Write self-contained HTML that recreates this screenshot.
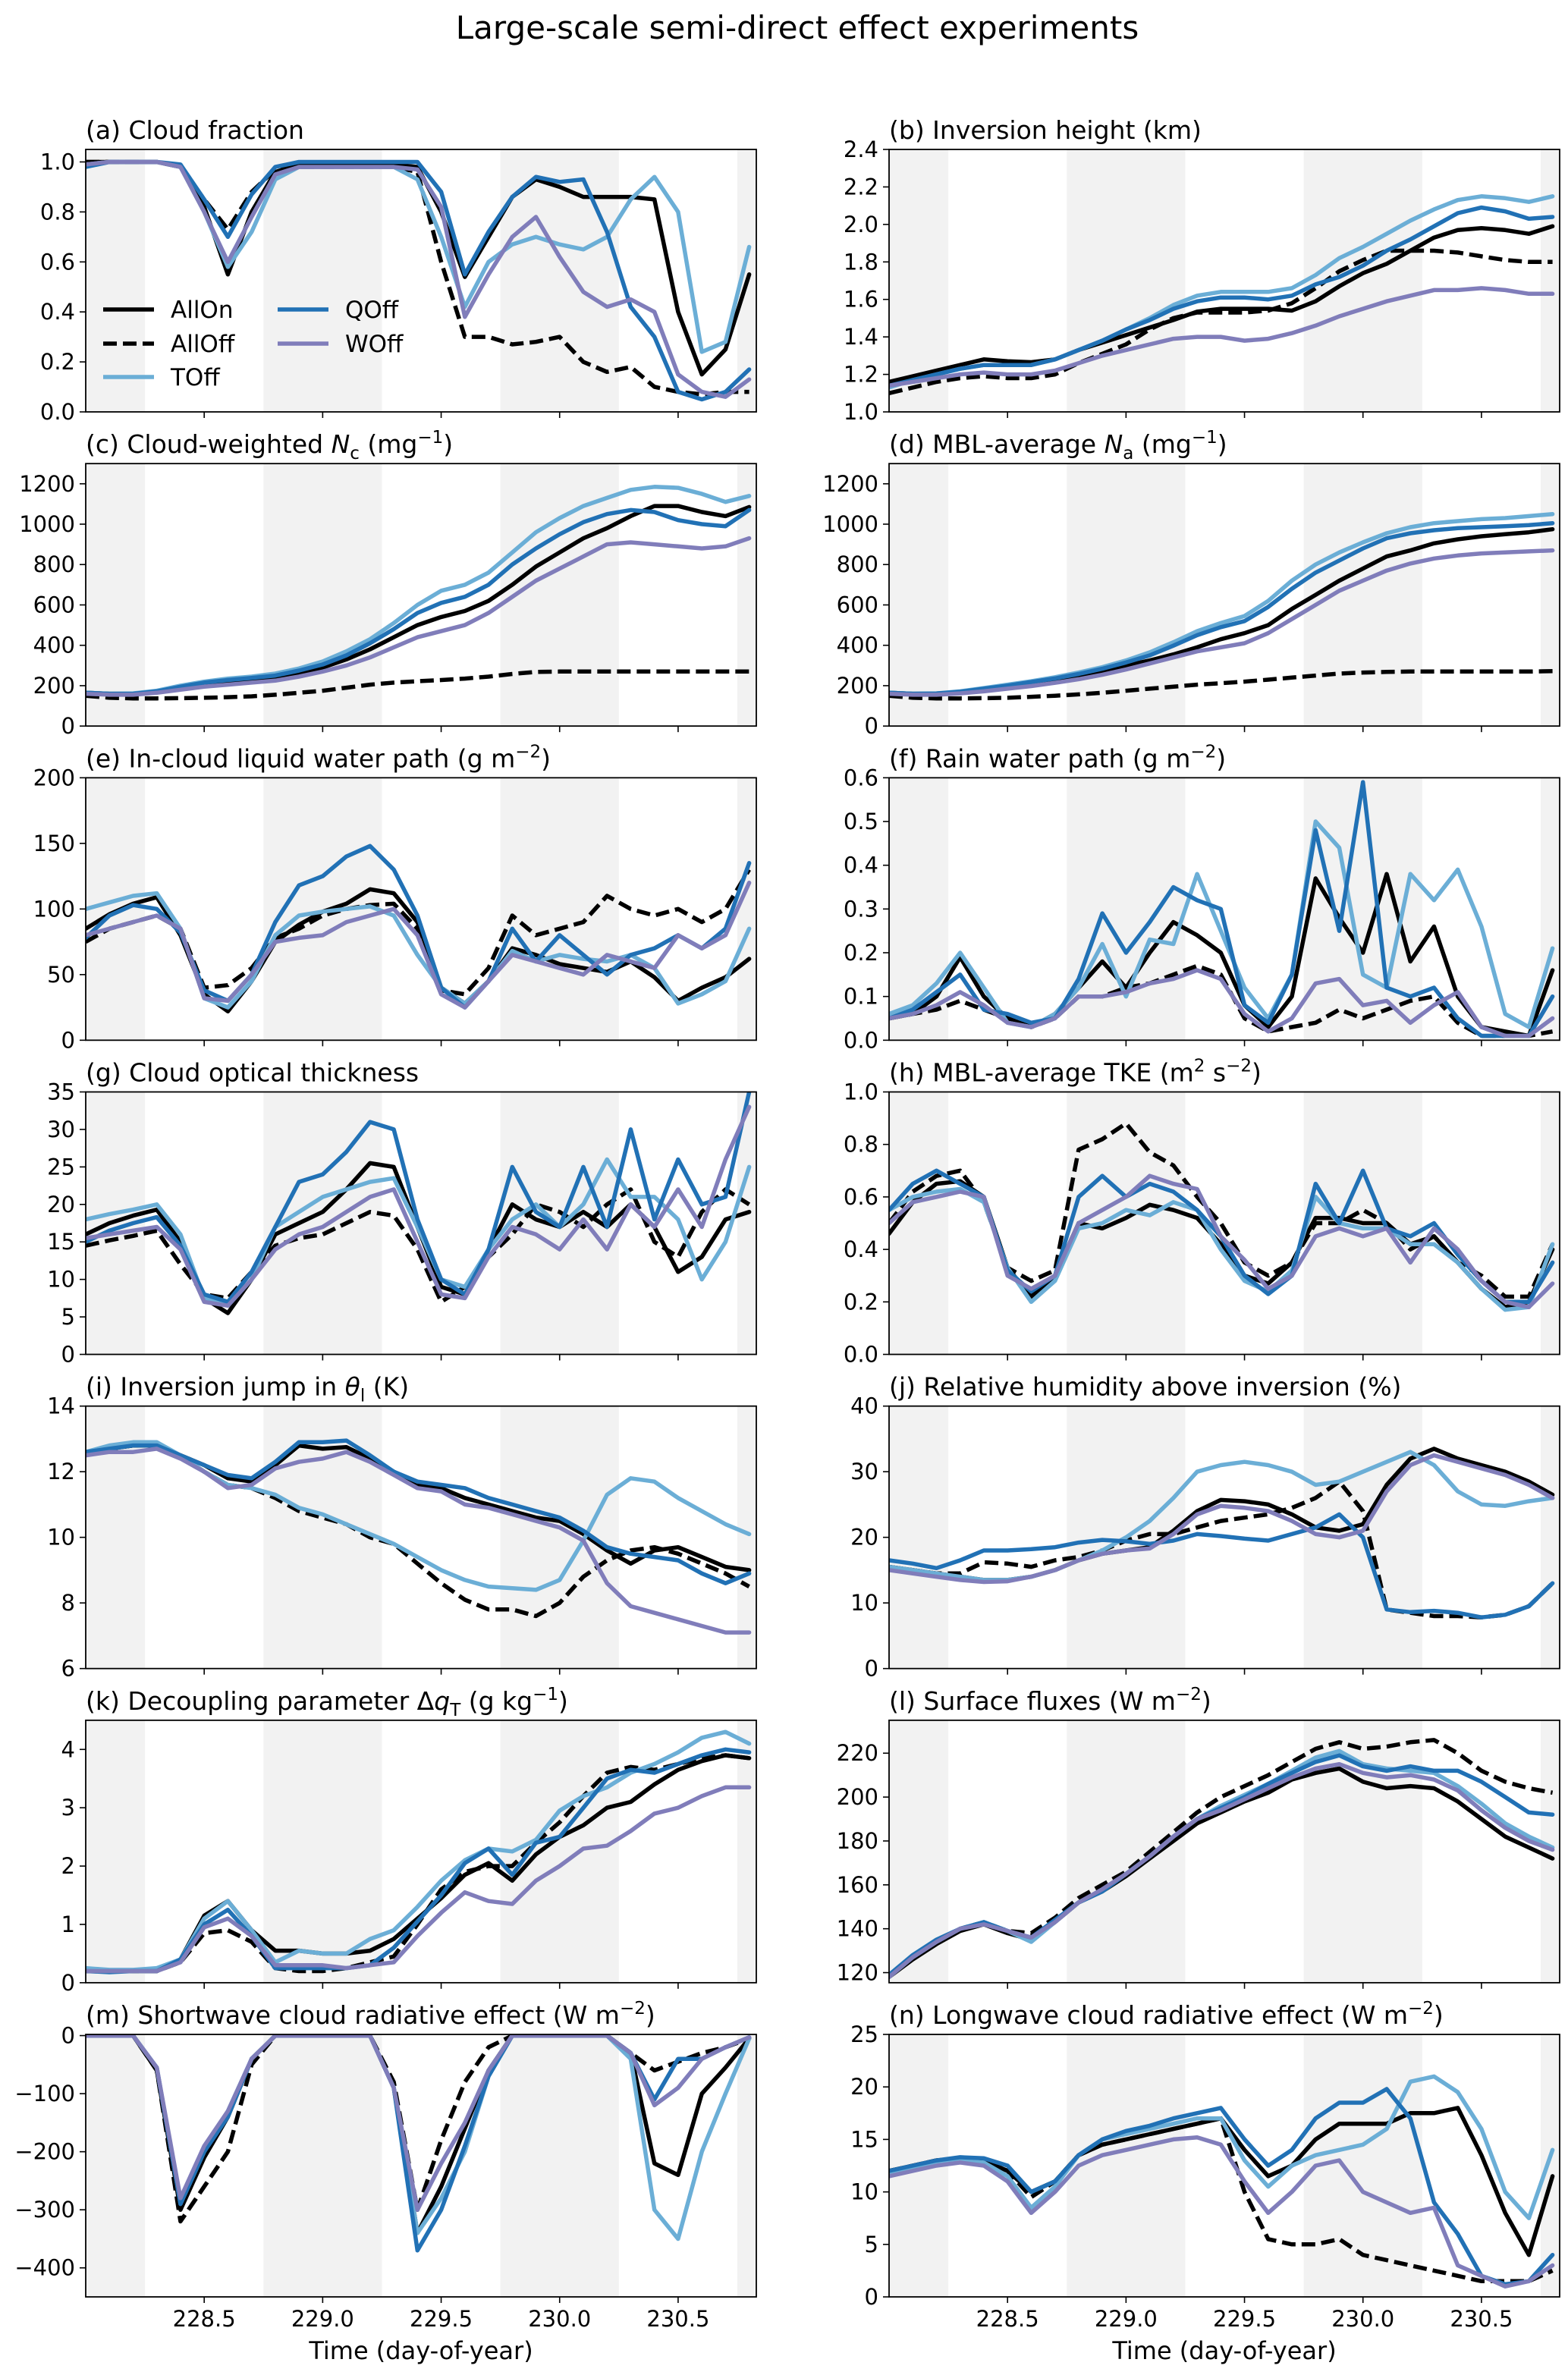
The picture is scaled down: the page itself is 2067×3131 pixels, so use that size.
<!DOCTYPE html>
<html><head><meta charset="utf-8">
<style>
html,body{margin:0;padding:0;background:#fff;}
svg{display:block;font-family:"DejaVu Sans","Liberation Sans",sans-serif;}
</style></head>
<body>
<svg id="fig" xmlns="http://www.w3.org/2000/svg" width="2067" height="3131" viewBox="0 0 2067 3131">
<rect x="0" y="0" width="2067" height="3131" fill="#fff"/>
<text x="1051" y="51" font-size="42" text-anchor="middle">Large-scale semi-direct effect experiments</text>
</svg>
<script>
// ---- data ----
const times = [228.0,228.1,228.2,228.3,228.4,228.5,228.6,228.7,228.8,228.9,229.0,229.1,229.2,229.3,229.4,229.5,229.6,229.7,229.8,229.9,230.0,230.1,230.2,230.3,230.4,230.5,230.6,230.7,230.8];
const seriesNames = ["AllOn","AllOff","TOff","QOff","WOff"];
const xTickValues = [228.5,229.0,229.5,230.0,230.5];
const xTickLabels = ["228.5","229.0","229.5","230.0","230.5"];
const nightStarts = [227.75,228.75,229.75,230.75];
const nightEnds = [228.25,229.25,230.25,231.25];

// (a) cloud fraction
const cfAllOn = [1,1,1,1,0.98,0.82,0.55,0.8,0.96,0.99,0.99,0.99,0.99,0.99,0.98,0.8,0.54,0.7,0.86,0.93,0.9,0.86,0.86,0.86,0.85,0.4,0.15,0.25,0.55];
const cfAllOff = [1,1,1,1,0.98,0.85,0.73,0.88,0.97,0.98,0.98,0.98,0.98,0.98,0.96,0.6,0.3,0.3,0.27,0.28,0.3,0.2,0.16,0.18,0.1,0.08,0.07,0.08,0.08];
const cfTOff = [0.99,1,1,1,0.98,0.8,0.58,0.72,0.93,0.98,0.98,0.98,0.98,0.98,0.93,0.7,0.42,0.6,0.67,0.7,0.67,0.65,0.7,0.85,0.94,0.8,0.24,0.28,0.66];
const cfQOff = [0.98,1,1,1,0.99,0.85,0.7,0.87,0.98,1,1,1,1,1,1,0.88,0.55,0.72,0.86,0.94,0.92,0.93,0.72,0.42,0.3,0.08,0.05,0.08,0.17];
const cfWOff = [0.99,1,1,1,0.98,0.8,0.6,0.78,0.95,0.98,0.98,0.98,0.98,0.98,0.97,0.82,0.38,0.55,0.7,0.78,0.62,0.48,0.42,0.45,0.4,0.15,0.08,0.06,0.13];
// (b) inversion height
const zAllOn = [1.16,1.19,1.22,1.25,1.28,1.27,1.265,1.28,1.33,1.37,1.41,1.45,1.49,1.535,1.55,1.55,1.55,1.54,1.59,1.67,1.74,1.79,1.86,1.93,1.97,1.98,1.97,1.95,1.99];
const zAllOff = [1.1,1.13,1.16,1.18,1.19,1.18,1.18,1.2,1.26,1.31,1.36,1.44,1.5,1.53,1.53,1.53,1.54,1.58,1.66,1.75,1.81,1.86,1.86,1.86,1.85,1.83,1.81,1.8,1.8];
const zTOff = [1.13,1.17,1.2,1.23,1.25,1.25,1.25,1.28,1.33,1.38,1.44,1.5,1.57,1.62,1.64,1.64,1.64,1.66,1.73,1.82,1.88,1.95,2.02,2.08,2.13,2.15,2.14,2.12,2.15];
const zQOff = [1.14,1.17,1.2,1.23,1.25,1.25,1.25,1.28,1.33,1.38,1.44,1.49,1.55,1.59,1.61,1.61,1.6,1.62,1.68,1.72,1.78,1.86,1.92,1.99,2.06,2.09,2.07,2.03,2.04];
const zWOff = [1.14,1.16,1.18,1.2,1.21,1.2,1.2,1.22,1.26,1.3,1.33,1.36,1.39,1.4,1.4,1.38,1.39,1.42,1.46,1.51,1.55,1.59,1.62,1.65,1.65,1.66,1.65,1.63,1.63];
// (c) cloud-weighted Nc
const ncAllOn = [165,160,160,170,190,210,220,230,240,260,290,330,380,440,500,540,570,620,700,790,860,930,980,1040,1090,1090,1060,1040,1085];
const ncAllOff = [150,140,137,137,138,140,143,147,155,165,175,190,205,215,222,228,235,245,258,268,270,270,270,270,270,270,270,270,270];
const ncTOff = [165,160,162,175,200,220,235,245,260,285,320,370,430,510,600,670,700,760,860,960,1030,1090,1130,1170,1185,1180,1150,1110,1140];
const ncQOff = [165,160,160,172,195,215,228,238,250,275,305,350,410,480,560,610,640,700,800,880,950,1010,1050,1070,1060,1020,1000,990,1070];
const ncWOff = [160,155,155,165,180,195,205,215,225,245,270,300,340,390,440,470,500,560,640,720,780,840,900,910,900,890,880,890,930];
// (d) MBL-average Na
const naAllOn = [165,160,160,168,180,195,210,228,248,272,300,325,355,390,430,460,500,580,650,720,780,840,870,905,925,940,950,960,975];
const naAllOff = [150,140,137,137,138,140,145,150,157,165,175,185,195,205,212,220,230,240,250,260,265,268,270,270,270,270,270,270,272];
const naTOff = [165,160,162,172,188,205,222,242,265,292,325,365,415,470,510,545,620,720,800,860,910,955,985,1005,1015,1025,1030,1040,1050];
const naQOff = [165,160,161,170,185,200,218,236,258,284,315,350,398,450,490,520,590,680,760,820,880,930,955,970,980,985,990,995,1005];
const naWOff = [160,155,155,162,172,185,198,214,232,254,280,310,340,370,390,410,460,530,600,670,720,770,805,830,845,855,860,865,870];
// (e) in-cloud LWP
const lwpAllOn = [85,96,104,109,80,35,22,45,75,88,98,104,115,112,90,40,28,45,70,65,58,55,52,60,48,30,40,48,62];
const lwpAllOff = [75,85,90,95,85,40,42,55,78,85,95,100,103,104,85,38,35,55,95,80,85,90,110,100,95,100,90,100,130];
const lwpTOff = [100,105,110,112,85,32,25,45,80,95,98,100,102,95,65,40,28,45,68,60,65,62,60,65,55,28,35,45,85];
const lwpQOff = [78,95,103,100,82,38,30,50,90,118,125,140,148,130,95,40,25,45,85,60,80,65,50,65,70,80,70,85,135];
const lwpWOff = [80,85,90,95,85,32,30,50,75,78,80,90,95,100,80,35,25,45,65,60,55,50,65,60,55,80,70,80,120];
// (f) rain water path
const rwpAllOn = [0.05,0.06,0.1,0.19,0.1,0.05,0.03,0.06,0.12,0.18,0.12,0.2,0.27,0.24,0.2,0.08,0.03,0.1,0.37,0.28,0.2,0.38,0.18,0.26,0.1,0.03,0.02,0.01,0.16];
const rwpAllOff = [0.05,0.06,0.07,0.09,0.07,0.05,0.03,0.05,0.1,0.1,0.12,0.13,0.15,0.17,0.15,0.05,0.02,0.03,0.04,0.07,0.05,0.07,0.09,0.1,0.04,0.01,0.01,0.01,0.02];
const rwpTOff = [0.06,0.08,0.13,0.2,0.12,0.04,0.03,0.06,0.12,0.22,0.1,0.23,0.22,0.38,0.25,0.12,0.05,0.15,0.5,0.44,0.15,0.12,0.38,0.32,0.39,0.26,0.06,0.03,0.21];
const rwpQOff = [0.05,0.07,0.11,0.15,0.07,0.06,0.04,0.05,0.14,0.29,0.2,0.27,0.35,0.32,0.3,0.08,0.04,0.15,0.48,0.25,0.59,0.12,0.1,0.12,0.05,0.01,0.01,0.01,0.1];
const rwpWOff = [0.05,0.06,0.08,0.11,0.08,0.04,0.03,0.05,0.1,0.1,0.11,0.13,0.14,0.16,0.14,0.06,0.02,0.05,0.13,0.14,0.08,0.09,0.04,0.08,0.11,0.03,0.01,0.01,0.05];
// (g) cloud optical thickness
const codAllOn = [16,17.5,18.5,19.3,15,7.5,5.5,10,16,17.5,19,22,25.5,25,17,9,8,14,20,18,17,19,17,20,17,11,13,18,19];
const codAllOff = [14.5,15.2,15.8,16.5,12,8,7.5,11,14.5,15.5,16,17.5,19,18.5,14,7,9,13,16,20,19,17,20,22,15,13,19,22,20];
const codTOff = [18,18.7,19.3,20,16,7.5,6.5,10,17,19,21,22,23,23.5,17,10,9,14,18,20,17,20,26,21,21,18,10,15,25];
const codQOff = [15,16.5,17.5,18.3,14.5,8,7,11,17,23,24,27,31,30,18,10,8,14,25,19,17,25,17,30,18,26,20,21,35];
const codWOff = [15.5,16,16.5,17,14,7,6.5,10,14,16,17,19,21,22,15,8,7.5,13,17,16,14,18,14,20,17,22,17,26,33];
// (h) MBL-average TKE
const tkeAllOn = [0.46,0.58,0.65,0.66,0.6,0.33,0.22,0.3,0.5,0.48,0.52,0.57,0.55,0.52,0.42,0.3,0.27,0.35,0.52,0.52,0.5,0.5,0.42,0.45,0.35,0.25,0.18,0.2,0.4];
const tkeAllOff = [0.5,0.62,0.68,0.7,0.58,0.33,0.28,0.32,0.78,0.82,0.88,0.77,0.72,0.6,0.5,0.35,0.3,0.35,0.5,0.5,0.55,0.5,0.4,0.45,0.35,0.3,0.22,0.22,0.42];
const tkeTOff = [0.55,0.6,0.62,0.63,0.58,0.33,0.2,0.28,0.48,0.5,0.55,0.53,0.58,0.55,0.4,0.28,0.24,0.32,0.6,0.5,0.48,0.48,0.42,0.42,0.35,0.25,0.17,0.18,0.42];
const tkeQOff = [0.55,0.65,0.7,0.65,0.6,0.32,0.24,0.3,0.6,0.68,0.6,0.65,0.62,0.55,0.45,0.3,0.23,0.3,0.65,0.5,0.7,0.48,0.45,0.5,0.38,0.28,0.2,0.2,0.35];
const tkeWOff = [0.5,0.58,0.6,0.62,0.6,0.3,0.25,0.3,0.5,0.55,0.6,0.68,0.65,0.63,0.45,0.36,0.25,0.3,0.45,0.48,0.45,0.48,0.35,0.48,0.4,0.28,0.2,0.18,0.27];
// (i) inversion jump
const djAllOn = [12.6,12.7,12.8,12.8,12.5,12.2,11.8,11.7,12.2,12.8,12.7,12.75,12.4,12.0,11.6,11.5,11.2,11.0,10.8,10.6,10.5,10.1,9.6,9.2,9.6,9.7,9.4,9.1,9.0];
const djAllOff = [12.6,12.7,12.8,12.8,12.5,12.0,11.6,11.5,11.2,10.8,10.6,10.4,10.0,9.8,9.2,8.6,8.1,7.8,7.8,7.6,8.0,8.8,9.3,9.6,9.7,9.5,9.2,8.9,8.5];
const djTOff = [12.6,12.8,12.9,12.9,12.5,12.0,11.6,11.5,11.3,10.9,10.7,10.4,10.1,9.8,9.4,9.0,8.7,8.5,8.45,8.4,8.7,9.9,11.3,11.8,11.7,11.2,10.8,10.4,10.1];
const djQOff = [12.6,12.7,12.8,12.8,12.5,12.2,11.9,11.8,12.3,12.9,12.9,12.95,12.5,12.0,11.7,11.6,11.5,11.2,11.0,10.8,10.6,10.2,9.7,9.5,9.4,9.3,8.9,8.6,8.9];
const djWOff = [12.5,12.6,12.6,12.7,12.4,12.0,11.5,11.6,12.1,12.3,12.4,12.6,12.3,11.9,11.5,11.4,11.0,10.9,10.7,10.5,10.3,9.9,8.6,7.9,7.7,7.5,7.3,7.1,7.1];
// (j) relative humidity above inversion
const rhAllOn = [15.5,15,14.5,14,13.5,13.5,14,15,16.5,17.5,18,18.5,21,24,25.7,25.5,25,23.5,21.5,21,22,28,32,33.5,32,31,30,28.5,26.5];
const rhAllOff = [15.5,15,14.5,14.5,16.2,16,15.5,16.5,17,18,19.5,20.5,20.5,21.5,22.5,23,23.5,24.5,26,28.5,24,9,8.5,8,8,7.8,8.2,9.5,13];
const rhTOff = [15.5,15,14.5,14,13.5,13.5,14,15,16.5,18,20,22.5,26,30,31,31.5,31,30,28,28.5,30,31.5,33,31,27,25,24.8,25.5,26];
const rhQOff = [16.5,16,15.3,16.5,18,18,18.2,18.5,19.2,19.6,19.4,19,19.5,20.5,20.2,19.8,19.5,20.5,21.5,23.5,20,9,8.6,8.8,8.5,7.8,8.2,9.5,13];
const rhWOff = [15,14.5,14,13.5,13.2,13.3,14,15,16.5,17.5,18,18.3,20.5,23.5,24.8,24.5,24,22.5,20.5,20,21,27,31,32.5,31.5,30.5,29.5,28,26];
// (k) decoupling parameter
const dqAllOn = [0.2,0.2,0.2,0.2,0.4,1.15,1.4,0.9,0.55,0.55,0.5,0.5,0.55,0.75,1.1,1.45,1.85,2.05,1.75,2.2,2.5,2.7,3.0,3.1,3.4,3.65,3.8,3.9,3.85];
const dqAllOff = [0.2,0.2,0.2,0.2,0.35,0.85,0.9,0.7,0.25,0.2,0.2,0.25,0.35,0.45,1.0,1.6,1.9,2.0,2.0,2.4,2.75,3.2,3.6,3.7,3.65,3.75,3.85,3.9,3.85];
const dqTOff = [0.25,0.22,0.22,0.25,0.4,1.1,1.4,0.9,0.35,0.55,0.5,0.5,0.75,0.9,1.3,1.75,2.1,2.3,2.25,2.45,2.95,3.2,3.35,3.6,3.75,3.95,4.2,4.3,4.1];
const dqQOff = [0.2,0.18,0.2,0.2,0.4,1.0,1.25,0.8,0.25,0.25,0.25,0.25,0.3,0.6,1.05,1.5,2.05,2.3,1.85,2.4,2.5,3.0,3.5,3.65,3.6,3.75,3.9,4.0,3.95];
const dqWOff = [0.2,0.2,0.2,0.2,0.35,0.95,1.1,0.8,0.3,0.3,0.3,0.25,0.3,0.35,0.8,1.2,1.55,1.4,1.35,1.75,2.0,2.3,2.35,2.6,2.9,3.0,3.2,3.35,3.35];
// (l) surface fluxes
const sfAllOn = [118,126,133,139,142,138,135,143,152,157,164,172,180,188,193,198,202,208,211,213,207,204,205,204,198,190,182,177,172];
const sfAllOff = [119,127,134,140,143,139,138,145,154,160,166,175,184,193,200,205,210,216,222,225,222,223,225,226,220,212,207,204,202];
const sfTOff = [118,127,134,140,143,139,134,143,152,157,165,173,182,190,196,201,206,212,218,221,215,213,212,211,205,197,188,182,177];
const sfQOff = [119,128,135,140,143,139,136,144,152,157,165,173,182,190,195,200,206,211,216,219,214,212,214,212,212,207,200,193,192];
const sfWOff = [118,127,134,140,142,139,136,143,152,158,165,173,182,190,194,199,204,209,213,215,211,209,210,208,203,194,186,180,176];
// (m) shortwave CRE
const swAllOn = [0,0,0,-60,-300,-210,-140,-40,0,0,0,0,0,-90,-340,-260,-160,-60,0,0,0,0,0,-30,-220,-240,-100,-55,-5];
const swAllOff = [0,0,0,-60,-320,-260,-200,-50,0,0,0,0,0,-80,-300,-180,-80,-20,0,0,0,0,0,-30,-60,-45,-30,-20,-5];
const swTOff = [0,0,0,-55,-290,-200,-130,-40,0,0,0,0,0,-90,-340,-280,-200,-70,0,0,0,0,0,-40,-300,-350,-200,-100,-5];
const swQOff = [0,0,0,-55,-290,-200,-140,-40,0,0,0,0,0,-90,-370,-300,-190,-70,0,0,0,0,0,-30,-110,-40,-40,-20,-3];
const swWOff = [0,0,0,-55,-280,-190,-130,-40,0,0,0,0,0,-90,-300,-220,-150,-60,0,0,0,0,0,-30,-120,-90,-40,-20,-3];
// (n) longwave CRE
const lwAllOn = [12,12.5,13,13.2,13,12,10,11,13.5,14.5,15,15.5,16,16.5,17,14,11.5,12.5,15,16.5,16.5,16.5,17.5,17.5,18,13.5,8,4,11.5];
const lwAllOff = [12,12.5,13,13.2,13,12,9.5,11,13.5,14.5,15,15.5,16,16.5,17,10,5.5,5,5,5.5,4,3.5,3,2.5,2,1.5,1.5,1.5,2.5];
const lwTOff = [11.8,12.3,12.8,13,12.8,11.5,8.5,10.5,13.5,15,15.5,16,16.5,17,17,13,10.5,12.5,13.5,14,14.5,16,20.5,21,19.5,16,10,7.5,14];
const lwQOff = [12,12.5,13,13.3,13.2,12.5,10,11,13.5,15,15.8,16.3,17,17.5,18,15,12.5,14,17,18.5,18.5,19.8,17,9,6,2,1.2,1.5,4];
const lwWOff = [11.5,12,12.5,12.8,12.5,11,8,10,12.5,13.5,14,14.5,15,15.2,14.5,11,8,10,12.5,13,10,9,8,8.5,3,2,1,1.5,3];

// ---- layout / style ----
const NS = "http://www.w3.org/2000/svg";
const svg = document.getElementById("fig");
const colLeft = [113, 1172];
const colWidth = 884;
const rowTop0 = 197, rowPitch = 414.17, axH = 346;
const xMin = 228.0, xMax = 230.83;
const styles = {
  AllOn: {color: "#000000", dash: null},
  AllOff: {color: "#000000", dash: "18,8"},
  TOff: {color: "#6baed6", dash: null},
  QOff: {color: "#2171b5", dash: null},
  WOff: {color: "#807dba", dash: null}
};

const panels = [
 {key:"a", col:0,row:0, title:'(a) Cloud fraction', yMin:0, yMax:1.05, ticks:[0,0.2,0.4,0.6,0.8,1.0], labels:["0.0","0.2","0.4","0.6","0.8","1.0"], s:[cfAllOn,cfAllOff,cfTOff,cfQOff,cfWOff]},
 {key:"b", col:1,row:0, title:'(b) Inversion height (km)', yMin:1.0, yMax:2.4, ticks:[1.0,1.2,1.4,1.6,1.8,2.0,2.2,2.4], labels:["1.0","1.2","1.4","1.6","1.8","2.0","2.2","2.4"], s:[zAllOn,zAllOff,zTOff,zQOff,zWOff]},
 {key:"c", col:0,row:1, title:'(c) Cloud-weighted <tspan font-style="italic">N</tspan><tspan dy="8" font-size="23">c</tspan><tspan dy="-8"> (mg</tspan><tspan dy="-13" font-size="23">−1</tspan><tspan dy="13">)</tspan>', yMin:0, yMax:1300, ticks:[0,200,400,600,800,1000,1200], labels:["0","200","400","600","800","1000","1200"], s:[ncAllOn,ncAllOff,ncTOff,ncQOff,ncWOff]},
 {key:"d", col:1,row:1, title:'(d) MBL-average <tspan font-style="italic">N</tspan><tspan dy="8" font-size="23">a</tspan><tspan dy="-8"> (mg</tspan><tspan dy="-13" font-size="23">−1</tspan><tspan dy="13">)</tspan>', yMin:0, yMax:1300, ticks:[0,200,400,600,800,1000,1200], labels:["0","200","400","600","800","1000","1200"], s:[naAllOn,naAllOff,naTOff,naQOff,naWOff]},
 {key:"e", col:0,row:2, title:'(e) In-cloud liquid water path (g m<tspan dy="-13" font-size="23">−2</tspan><tspan dy="13">)</tspan>', yMin:0, yMax:200, ticks:[0,50,100,150,200], labels:["0","50","100","150","200"], s:[lwpAllOn,lwpAllOff,lwpTOff,lwpQOff,lwpWOff]},
 {key:"f", col:1,row:2, title:'(f) Rain water path (g m<tspan dy="-13" font-size="23">−2</tspan><tspan dy="13">)</tspan>', yMin:0, yMax:0.6, ticks:[0,0.1,0.2,0.3,0.4,0.5,0.6], labels:["0.0","0.1","0.2","0.3","0.4","0.5","0.6"], s:[rwpAllOn,rwpAllOff,rwpTOff,rwpQOff,rwpWOff]},
 {key:"g", col:0,row:3, title:'(g) Cloud optical thickness', yMin:0, yMax:35, ticks:[0,5,10,15,20,25,30,35], labels:["0","5","10","15","20","25","30","35"], s:[codAllOn,codAllOff,codTOff,codQOff,codWOff]},
 {key:"h", col:1,row:3, title:'(h) MBL-average TKE (m<tspan dy="-13" font-size="23">2</tspan><tspan dy="13"> s</tspan><tspan dy="-13" font-size="23">−2</tspan><tspan dy="13">)</tspan>', yMin:0, yMax:1.0, ticks:[0,0.2,0.4,0.6,0.8,1.0], labels:["0.0","0.2","0.4","0.6","0.8","1.0"], s:[tkeAllOn,tkeAllOff,tkeTOff,tkeQOff,tkeWOff]},
 {key:"i", col:0,row:4, title:'(i) Inversion jump in <tspan font-style="italic">θ</tspan><tspan dy="8" font-size="23">l</tspan><tspan dy="-8"> (K)</tspan>', yMin:6, yMax:14, ticks:[6,8,10,12,14], labels:["6","8","10","12","14"], s:[djAllOn,djAllOff,djTOff,djQOff,djWOff]},
 {key:"j", col:1,row:4, title:'(j) Relative humidity above inversion (%)', yMin:0, yMax:40, ticks:[0,10,20,30,40], labels:["0","10","20","30","40"], s:[rhAllOn,rhAllOff,rhTOff,rhQOff,rhWOff]},
 {key:"k", col:0,row:5, title:'(k) Decoupling parameter Δ<tspan font-style="italic">q</tspan><tspan dy="8" font-size="23">T</tspan><tspan dy="-8"> (g kg</tspan><tspan dy="-13" font-size="23">−1</tspan><tspan dy="13">)</tspan>', yMin:0, yMax:4.5, ticks:[0,1,2,3,4], labels:["0","1","2","3","4"], s:[dqAllOn,dqAllOff,dqTOff,dqQOff,dqWOff]},
 {key:"l", col:1,row:5, title:'(l) Surface fluxes (W m<tspan dy="-13" font-size="23">−2</tspan><tspan dy="13">)</tspan>', yMin:115.4, yMax:235, ticks:[120,140,160,180,200,220], labels:["120","140","160","180","200","220"], s:[sfAllOn,sfAllOff,sfTOff,sfQOff,sfWOff]},
 {key:"m", col:0,row:6, title:'(m) Shortwave cloud radiative effect (W m<tspan dy="-13" font-size="23">−2</tspan><tspan dy="13">)</tspan>', yMin:-450, yMax:2, ticks:[-400,-300,-200,-100,0], labels:["−400","−300","−200","−100","0"], s:[swAllOn,swAllOff,swTOff,swQOff,swWOff]},
 {key:"n", col:1,row:6, title:'(n) Longwave cloud radiative effect (W m<tspan dy="-13" font-size="23">−2</tspan><tspan dy="13">)</tspan>', yMin:0, yMax:25, ticks:[0,5,10,15,20,25], labels:["0","5","10","15","20","25"], s:[lwAllOn,lwAllOff,lwTOff,lwQOff,lwWOff]}
];

function mk(tag, attrs, parent){
  const el = document.createElementNS(NS, tag);
  for (const k in attrs) el.setAttribute(k, attrs[k]);
  (parent || svg).appendChild(el);
  return el;
}

panels.forEach(function(p){
  const x0 = colLeft[p.col], y0 = rowTop0 + p.row * rowPitch;
  const xs = function(t){ return x0 + (t - xMin) / (xMax - xMin) * colWidth; };
  const ys = function(v){ return y0 + axH - (v - p.yMin) / (p.yMax - p.yMin) * axH; };
  const g = mk("g", {});
  
  

  const cp = mk("clipPath", {id: "clip-" + p.key}, g);
  mk("rect", {x: x0, y: y0, width: colWidth, height: axH}, cp);

  for (let i = 0; i < nightStarts.length; i++) {
    const a = Math.max(xs(nightStarts[i]), x0), b = Math.min(xs(nightEnds[i]), x0 + colWidth);
    if (b <= a) continue;
    const r = mk("rect", {x: a, y: y0, width: b - a, height: axH, fill: "#f2f2f2"}, g);
    
    
  }

  const tt = mk("text", {x: x0, y: y0 - 14, "font-size": 33}, g);
  tt.innerHTML = p.title;
  
  

  const ya = mk("g", {}, g);
  
  
  p.ticks.forEach(function(v, i){
    const y = ys(v);
    mk("line", {x1: x0 - 8, x2: x0, y1: y, y2: y, stroke: "#000", "stroke-width": 1.6}, ya);
    const lab = mk("text", {x: x0 - 14, y: y + 10, "font-size": 29, "text-anchor": "end"}, ya);
    lab.textContent = p.labels[i];
    
    
  });

  const xa = mk("g", {}, g);
  
  
  xTickValues.forEach(function(t, i){
    const x = xs(t);
    mk("line", {x1: x, x2: x, y1: y0 + axH, y2: y0 + axH + 8, stroke: "#000", "stroke-width": 1.6}, xa);
    if (p.row === 6) {
      const lab = mk("text", {x: x, y: y0 + axH + 39, "font-size": 29, "text-anchor": "middle"}, xa);
      lab.textContent = xTickLabels[i];
      
      
    }
  });
  if (p.row === 6) {
    const xl = mk("text", {x: x0 + colWidth / 2, y: y0 + axH + 82, "font-size": 32, "text-anchor": "middle"}, g);
    xl.textContent = "Time (day-of-year)";
    
    
  }

  const sg = mk("g", {"clip-path": "url(#clip-" + p.key + ")"}, g);
  
  
  p.s.forEach(function(arr, si){
    const nm = seriesNames[si], st = styles[nm];
    const pts = arr.map(function(v, i){ return xs(times[i]).toFixed(1) + "," + ys(v).toFixed(1); }).join(" ");
    const pl = mk("polyline", {points: pts, fill: "none", stroke: st.color, "stroke-width": 5.5, "stroke-linejoin": "round", "stroke-linecap": st.dash ? "butt" : "round"}, sg);
    if (st.dash) pl.setAttribute("stroke-dasharray", st.dash);
    
    
  });

  const fr = mk("rect", {x: x0, y: y0, width: colWidth, height: axH, fill: "none", stroke: "#000", "stroke-width": 1.8}, g);
  
  

  if (p.key === "a") {
    const lg = mk("g", {}, g);
    
    
    const entries = [["AllOn",136,408],["AllOff",136,453],["TOff",136,497],["QOff",366,408],["WOff",366,453]];
    entries.forEach(function(e){
      const st = styles[e[0]];
      const ln = mk("line", {x1: e[1], x2: e[1] + 67, y1: e[2], y2: e[2], stroke: st.color, "stroke-width": 5.5}, lg);
      if (st.dash) ln.setAttribute("stroke-dasharray", "18,8");
      const tx = mk("text", {x: e[1] + 89, y: e[2] + 11, "font-size": 31}, lg);
      tx.textContent = e[0];
      
      
    });
  }
});
</script>
</body></html>
